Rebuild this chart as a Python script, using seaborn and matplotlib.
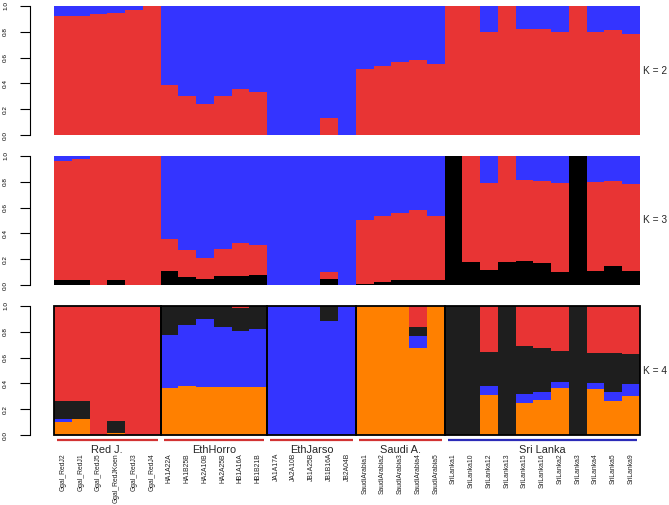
import numpy as np
import matplotlib
matplotlib.use('Agg')
import matplotlib.pyplot as plt
from matplotlib.patches import Rectangle
import seaborn as sns

# Individuals and populations
ids = ['Ggal_RedJ2', 'Ggal_RedJ1', 'Ggal_RedJ5', 'Ggal_RedJKoen', 'Ggal_RedJ3', 'Ggal_RedJ4',
       'HA1A22A', 'HA1B25B', 'HA2A10B', 'HA2A25B', 'HB1A16A', 'HB1B21B',
       'JA1A17A', 'JA2A10B', 'JB1A25B', 'JB1B16A', 'JB2A04B',
       'SaudiArabia1', 'SaudiArabia2', 'SaudiArabia3', 'SaudiArabia4', 'SaudiArabia5',
       'SriLanka1', 'SriLanka10', 'SriLanka12', 'SriLanka13', 'SriLanka15', 'SriLanka16',
       'SriLanka2', 'SriLanka3', 'SriLanka4', 'SriLanka5', 'SriLanka9']
pop_names = ['Red J.', 'EthHorro', 'EthJarso', 'Saudi A.', 'Sri Lanka']
pop_sizes = [6, 6, 5, 5, 11]
pop_line_colors = ['#d23232', '#d23232', '#d23232', '#d23232', '#2b2bb8']

# K = 2 ancestry (bottom to top: red, blue)
k2_red = [0.92, 0.925, 0.94, 0.945, 0.97, 1.0, 0.39, 0.30, 0.24, 0.305, 0.355, 0.335,
          0.0, 0.0, 0.0, 0.135, 0.0, 0.51, 0.535, 0.565, 0.585, 0.55,
          1.0, 1.0, 0.795, 1.0, 0.825, 0.82, 0.80, 1.0, 0.80, 0.815, 0.78]
k2_blue = [0.08, 0.075, 0.06, 0.055, 0.03, 0.0, 0.61, 0.70, 0.76, 0.695, 0.645, 0.665,
           1.0, 1.0, 1.0, 0.865, 1.0, 0.49, 0.465, 0.435, 0.415, 0.45,
           0.0, 0.0, 0.205, 0.0, 0.175, 0.18, 0.20, 0.0, 0.20, 0.185, 0.22]

# K = 3 ancestry (bottom to top: black, red, blue)
k3_black = [0.04, 0.04, 0.0, 0.035, 0.0, 0.0, 0.11, 0.065, 0.05, 0.07, 0.07, 0.075,
            0.0, 0.0, 0.0, 0.045, 0.0, 0.01, 0.02, 0.04, 0.04, 0.035,
            1.0, 0.175, 0.12, 0.18, 0.185, 0.17, 0.10, 1.0, 0.105, 0.145, 0.11]
k3_red = [0.925, 0.934, 1.0, 0.965, 1.0, 1.0, 0.245, 0.21, 0.162, 0.209, 0.258, 0.235,
          0.0, 0.0, 0.0, 0.058, 0.0, 0.49, 0.517, 0.518, 0.539, 0.497,
          0.0, 0.825, 0.673, 0.82, 0.632, 0.64, 0.693, 0.0, 0.691, 0.664, 0.67]
k3_blue = [0.036, 0.026, 0.0, 0.0, 0.0, 0.0, 0.646, 0.724, 0.788, 0.721, 0.672, 0.69,
           1.0, 1.0, 1.0, 0.897, 1.0, 0.50, 0.463, 0.442, 0.421, 0.468,
           0.0, 0.0, 0.207, 0.0, 0.183, 0.19, 0.207, 0.0, 0.204, 0.191, 0.22]

# K = 4 ancestry (bottom to top: orange, blue, black, red)
k4_orange = [0.103, 0.124, 0.0, 0.015, 0.0, 0.0, 0.367, 0.382, 0.375, 0.372, 0.372, 0.372,
             0.0, 0.0, 0.0, 0.0, 0.0, 1.0, 1.0, 1.0, 0.672, 1.0,
             0.0, 0.0, 0.31, 0.0, 0.251, 0.269, 0.362, 0.0, 0.354, 0.266, 0.305]
k4_blue = [0.021, 0.0, 0.0, 0.0, 0.0, 0.0, 0.408, 0.471, 0.524, 0.468, 0.437, 0.447,
           1.0, 1.0, 1.0, 0.886, 1.0, 0.0, 0.0, 0.0, 0.095, 0.0,
           0.0, 0.0, 0.072, 0.0, 0.069, 0.064, 0.046, 0.0, 0.046, 0.065, 0.088]
k4_black = [0.142, 0.14, 0.0, 0.094, 0.0, 0.0, 0.225, 0.147, 0.101, 0.16, 0.173, 0.181,
            0.0, 0.0, 0.0, 0.114, 0.0, 0.0, 0.0, 0.0, 0.068, 0.0,
            1.0, 1.0, 0.264, 1.0, 0.37, 0.339, 0.246, 1.0, 0.238, 0.307, 0.232]
k4_red = [0.734, 0.736, 1.0, 0.891, 1.0, 1.0, 0.0, 0.0, 0.0, 0.0, 0.018, 0.0,
          0.0, 0.0, 0.0, 0.0, 0.0, 0.0, 0.0, 0.0, 0.165, 0.0,
          0.0, 0.0, 0.354, 0.0, 0.31, 0.328, 0.346, 0.0, 0.362, 0.362, 0.375]

RED = '#e83434'
BLUE = '#3434ff'
ORANGE = '#ff8000'
BLACK3 = '#000000'
BLACK4 = '#1e1e1e'

sns.set_style('white')
plt.rcParams['font.family'] = ['Liberation Sans', 'DejaVu Sans']

fig = plt.figure(figsize=(6.69, 5.05), dpi=100)
left, width, height = 54 / 669, 586 / 669, 129 / 505
ax2 = fig.add_axes([left, 1 - 135 / 505, width, height])
ax3 = fig.add_axes([left, 1 - 285 / 505, width, height])
ax4 = fig.add_axes([left, 1 - 435 / 505, width, height])


def stacked(ax, layers, colors):
    base = np.zeros(len(ids))
    for vals, col in zip(layers, colors):
        sns.barplot(x=ids, y=vals, order=ids, bottom=base.copy(), color=col,
                    width=1.0, saturation=1, errorbar=None, linewidth=0,
                    antialiased=False, ax=ax)
        base = base + np.array(vals)


stacked(ax2, [k2_red, k2_blue], [RED, BLUE])
stacked(ax3, [k3_black, k3_red, k3_blue], [BLACK3, RED, BLUE])
stacked(ax4, [k4_orange, k4_blue, k4_black, k4_red], [ORANGE, BLUE, BLACK4, RED])

for ax, k in [(ax2, 2), (ax3, 3), (ax4, 4)]:
    ax.set_xlim(-0.5, len(ids) - 0.5)
    ax.set_ylim(0, 1)
    ax.set_xlabel('')
    ax.set_ylabel('')
    for s in ['top', 'right', 'bottom']:
        ax.spines[s].set_visible(False)
    ax.spines['left'].set_position(('outward', 17))
    ax.spines['left'].set_bounds(0, 1)
    ax.spines['left'].set_linewidth(0.8)
    ax.spines['left'].set_color('black')
    ax.set_yticks([0, 0.2, 0.4, 0.6, 0.8, 1.0])
    ax.set_yticklabels(['0.0', '0.2', '0.4', '0.6', '0.8', '1.0'])
    ax.tick_params(axis='y', left=True, length=7, width=0.8, pad=9,
                   labelsize=4.6, labelrotation=90, colors='black')
    for lab in ax.get_yticklabels():
        lab.set_va('center')
    ax.text(1.005, 0.5, f'K = {k}', transform=ax.transAxes, ha='left',
            va='center', fontsize=7.3)
    ax.set_facecolor('none')

for ax in (ax2, ax3):
    ax.tick_params(axis='x', bottom=False, labelbottom=False)

# K = 4: population frames, underlines, names and individual labels
ax4.set_xticks(range(len(ids)))
ax4.set_xticklabels(ids, rotation=90, fontsize=4.9, color='#222222')
ax4.tick_params(axis='x', bottom=False, length=0, pad=13)

start = 0
for name, n, lc in zip(pop_names, pop_sizes, pop_line_colors):
    ax4.add_patch(Rectangle((start - 0.5, 0), n, 1, fill=False, edgecolor='black',
                            linewidth=1.3, clip_on=False, zorder=5))
    ax4.plot([start - 0.33, start + n - 0.67], [-0.04, -0.04], color=lc,
             linewidth=1.6, clip_on=False, solid_capstyle='butt')
    ax4.text(start + n / 2 - 0.5, -0.14, name, ha='center', va='baseline',
             fontsize=7.9)
    start += n

fig.savefig('out.png', dpi=100)
